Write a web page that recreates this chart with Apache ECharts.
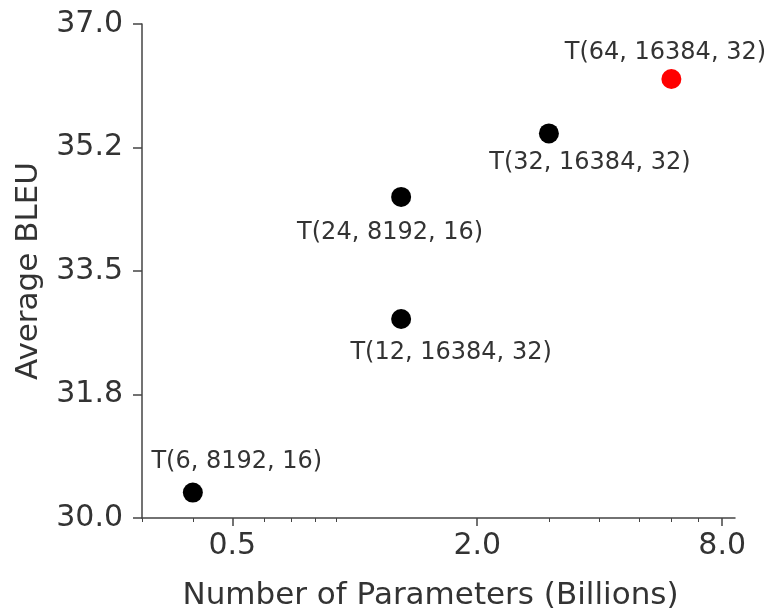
<!DOCTYPE html>
<html>
<head>
<meta charset="utf-8">
<script src="https://cdn.jsdelivr.net/npm/echarts@6/dist/echarts.min.js"></script>
<style>
html,body{margin:0;padding:0;background:#fff;}
#chart{width:769px;height:608px;}
</style>
</head>
<body>
<div id="chart"></div>
<script>
// ---- data ----
var modelNames = ['T(6, 8192, 16)', 'T(12, 16384, 32)', 'T(24, 8192, 16)', 'T(32, 16384, 32)', 'T(64, 16384, 32)'];
var paramsBillions = [0.4, 1.3, 1.3, 3.0, 6.0];
var avgBleu = [30.36, 32.82, 34.55, 35.45, 36.22];
var highlighted = [false, false, false, false, true];

var xTickValues = [0.5, 2, 8];
var xTickLabels = ['0.5', '2.0', '8.0'];
var xMinorTickValues = [0.3, 0.4, 0.6, 0.7, 0.8, 0.9, 3, 4, 5, 6, 7];
var yTickValues = [30, 31.75, 33.5, 35.25, 37];
var yTickLabels = ['30.0', '31.8', '33.5', '35.2', '37.0'];

// ---- layout (label placement relative to each point) ----
var labelOffsets = [[44, -31], [50, 34], [-11, 36], [41, 29], [-6, -26]];

var FONT = 'DejaVu Sans';
var TXT = '#333';
var LINE = '#444';

var chart = echarts.init(document.getElementById('chart'), null, {renderer: 'canvas'});

var seriesData = modelNames.map(function (n, i) {
  return {
    name: n,
    value: [paramsBillions[i], avgBleu[i]],
    itemStyle: {color: highlighted[i] ? '#f00' : '#000', opacity: 1},
    label: {offset: labelOffsets[i]}
  };
});

var option = {
  animation: false,
  backgroundColor: '#fff',
  grid: {left: 142, right: 34, top: 24, bottom: 90, containLabel: false, outerBoundsMode: 'none'},
  xAxis: [{
    type: 'log',
    logBase: 2,
    min: 0.3,
    max: 8.6,
    position: 'bottom',
    name: 'Number of Parameters (Billions)',
    nameLocation: 'middle',
    nameGap: 62,
    nameTextStyle: {fontFamily: FONT, fontSize: 31, color: TXT, padding: [0, 16, 0, 0]},
    axisLine: {show: true, lineStyle: {color: LINE, width: 1.5}},
    axisTick: {show: true, length: 8, customValues: xTickValues, lineStyle: {color: LINE, width: 1.5}},
    axisLabel: {
      show: true, margin: 13, fontFamily: FONT, fontSize: 30, color: TXT,
      customValues: xTickValues,
      formatter: function (v) {
        for (var i = 0; i < xTickValues.length; i++) {
          if (Math.abs(xTickValues[i] - v) < 1e-6) return xTickLabels[i];
        }
        return '';
      }
    },
    splitLine: {show: false},
    minorTick: {show: false}
  }, {
    type: 'log',
    logBase: 2,
    min: 0.3,
    max: 8.6,
    position: 'bottom',
    axisLine: {show: false},
    axisTick: {show: true, length: 4, customValues: xMinorTickValues, lineStyle: {color: LINE, width: 1}},
    axisLabel: {show: false, customValues: xMinorTickValues},
    splitLine: {show: false}
  }],
  yAxis: {
    type: 'value',
    min: 30,
    max: 37,
    name: 'Average BLEU',
    nameLocation: 'middle',
    nameGap: 98,
    nameTextStyle: {fontFamily: FONT, fontSize: 31, color: TXT},
    axisLine: {show: true, lineStyle: {color: LINE, width: 1.5}},
    axisTick: {show: true, length: 9, customValues: yTickValues, lineStyle: {color: LINE, width: 1.5}},
    axisLabel: {
      show: true, margin: 19, fontFamily: FONT, fontSize: 30, color: TXT,
      customValues: yTickValues,
      formatter: function (v) {
        for (var i = 0; i < yTickValues.length; i++) {
          if (Math.abs(yTickValues[i] - v) < 1e-6) return yTickLabels[i];
        }
        return '';
      }
    },
    splitLine: {show: false}
  },
  series: [{
    type: 'scatter',
    xAxisIndex: 0,
    yAxisIndex: 0,
    symbol: 'circle',
    symbolSize: 20,
    data: seriesData,
    label: {
      show: true,
      position: 'inside',
      align: 'center',
      verticalAlign: 'middle',
      fontFamily: FONT,
      fontSize: 24,
      color: TXT,
      formatter: function (p) { return p.name; }
    },
    emphasis: {disabled: true}
  }]
};

chart.setOption(option);
</script>
</body>
</html>
